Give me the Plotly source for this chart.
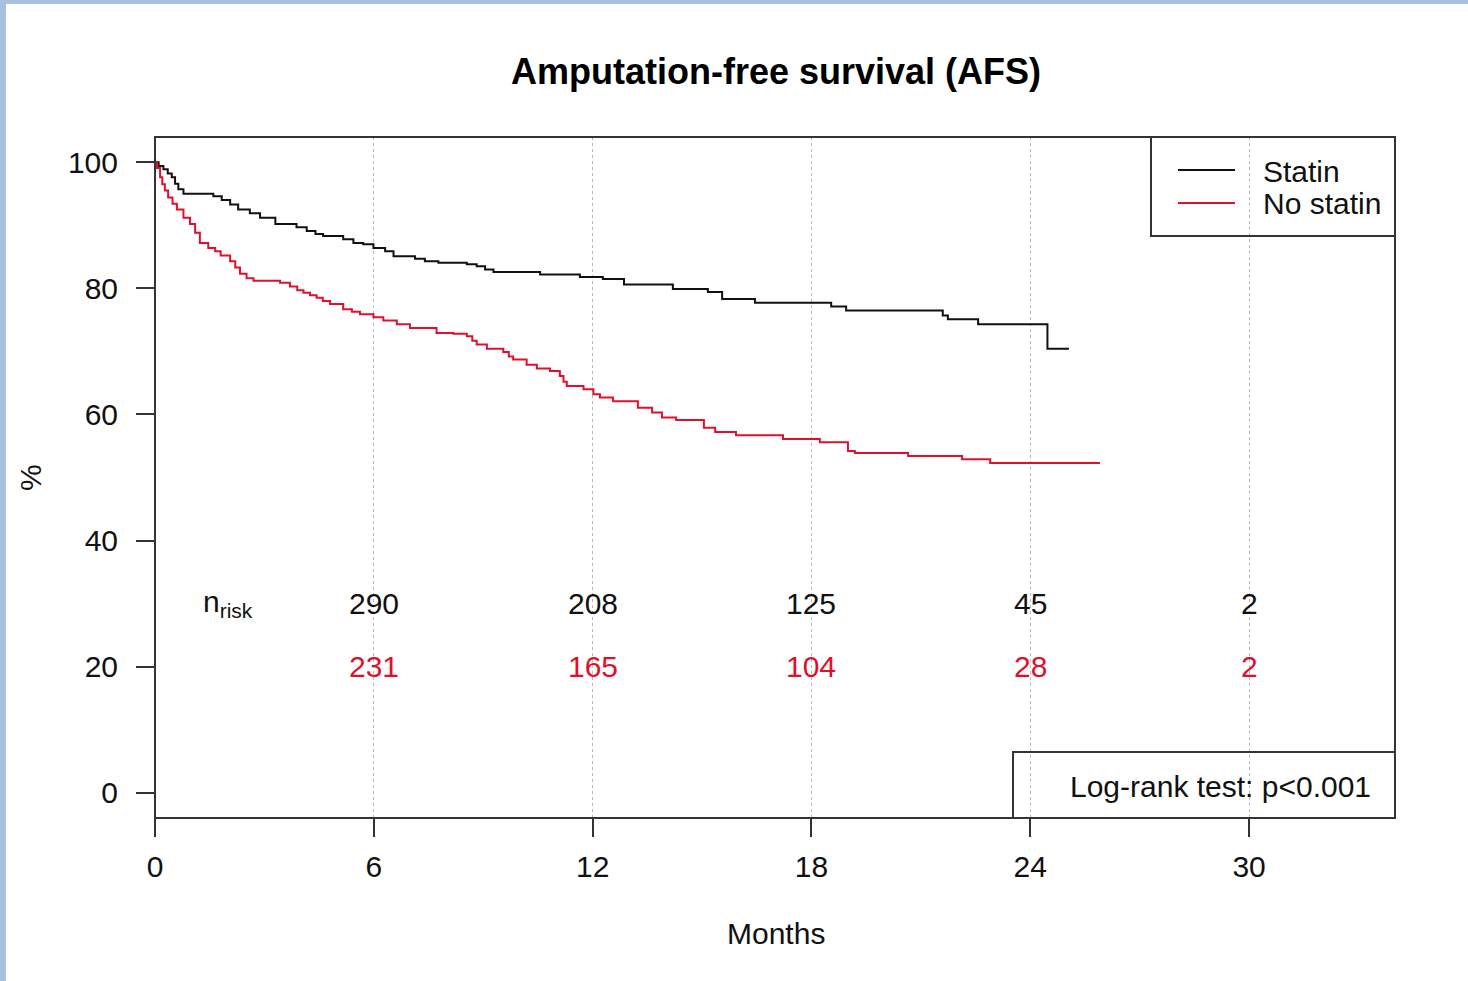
import plotly.graph_objects as go

# ---------------- data ----------------
statin_t = [0, 0.1, 0.23, 0.35, 0.46, 0.55, 0.64, 0.78, 1.6, 1.83, 2.06, 2.28, 2.6, 2.88, 3.3,
            3.88, 4.16, 4.4, 4.61, 5.16, 5.44, 5.71, 5.99, 6.31, 6.54, 7.13, 7.4, 7.77, 8.55,
            8.82, 9.05, 9.28, 10.56, 11.65, 12.28, 12.86, 14.2, 15.16, 15.55, 16.45, 18.54,
            18.95, 21.6, 21.74, 22.57, 24.47, 25.06]
statin_s = [100, 99.4, 98.9, 98.2, 97.6, 96.6, 95.7, 95.0, 94.6, 94.0, 93.3, 92.5, 91.9, 91.2, 90.2,
            89.7, 89.1, 88.6, 88.3, 87.8, 87.2, 87.0, 86.4, 85.9, 85.1, 84.7, 84.3, 84.05, 83.8,
            83.5, 83.0, 82.6, 82.2, 81.8, 81.5, 80.6, 79.9, 79.4, 78.3, 77.7, 77.1,
            76.5, 75.7, 75.1, 74.3, 70.4, 70.4]

nostatin_t = [0, 0.05, 0.14, 0.2, 0.27, 0.36, 0.48, 0.6, 0.78, 0.96, 1.1, 1.23, 1.46, 1.65, 1.8,
              2.06, 2.2, 2.33, 2.51, 2.7, 3.43, 3.7, 3.9, 4.07, 4.25, 4.43, 4.6, 4.8, 5.16, 5.4,
              5.62, 5.99, 6.26, 6.63, 6.99, 7.72, 8.18, 8.55, 8.7, 8.82, 9.1, 9.55, 9.7, 9.82,
              10.19, 10.47, 10.83, 11.1, 11.2, 11.29, 11.75, 12.02, 12.2, 12.56, 13.24, 13.63,
              13.9, 14.29, 15.05, 15.36, 15.93, 17.22, 18.23, 19.0, 19.19, 20.65, 22.13, 22.9, 25.91]
nostatin_s = [100, 99.1, 97.6, 96.5, 95.5, 94.4, 93.4, 92.5, 91.2, 90.2, 88.8, 87.2, 86.4, 85.9, 85.2,
              84.3, 83.3, 82.3, 81.6, 81.2, 80.9, 80.3, 79.7, 79.3, 78.9, 78.5, 78.0, 77.5, 76.7, 76.3,
              75.9, 75.4, 74.9, 74.3, 73.7, 72.9, 72.8, 72.4, 71.7, 71.1, 70.4, 69.9, 69.2, 68.7,
              67.9, 67.3, 66.9, 66.1, 65.2, 64.5, 64.0, 63.2, 62.7, 62.1, 61.05, 60.3,
              59.5, 59.1, 57.9, 57.2, 56.7, 56.1, 55.6, 54.2, 53.9, 53.4, 52.9, 52.3, 52.3]

risk_months = [6, 12, 18, 24, 30]
risk_statin = [290, 208, 125, 45, 2]
risk_nostatin = [231, 165, 104, 28, 2]

x_ticks = [0, 6, 12, 18, 24, 30]
y_ticks = [0, 20, 40, 60, 80, 100]

series_names = ["Statin", "No statin"]
BLACK = "#111111"
RED = "#E0102C"
FONT = "Liberation Sans, Arial, sans-serif"
FS = 30

# ---------------- geometry helpers (pixels -> paper) ----------------
W, H = 1468, 981
L, R, T, B = 155, 1395, 137, 818


def px(xp):
    return (xp - L) / (R - L)


def py(yp):
    return (B - yp) / (B - T)


fig = go.Figure()
fig.add_trace(go.Scatter(x=statin_t, y=statin_s, mode="lines", line_shape="hv",
                         line=dict(color=BLACK, width=2), name=series_names[0], showlegend=False))
fig.add_trace(go.Scatter(x=nostatin_t, y=nostatin_s, mode="lines", line_shape="hv",
                         line=dict(color=RED, width=2), name=series_names[1], showlegend=False))

annotations = []
# title / axis titles
annotations.append(dict(text="<b>Amputation-free survival (AFS)</b>", x=px(776), y=py(72),
                        xref="paper", yref="paper", showarrow=False, xanchor="center", yanchor="middle",
                        font=dict(size=36, color="#000", family=FONT)))
annotations.append(dict(text="Months", x=px(776), y=py(933), xref="paper", yref="paper",
                        showarrow=False, xanchor="center", yanchor="middle",
                        font=dict(size=FS, color="#111", family=FONT)))
annotations.append(dict(text="%", x=px(30), y=py(478), xref="paper", yref="paper", textangle=-90,
                        showarrow=False, xanchor="center", yanchor="middle",
                        font=dict(size=FS, color="#111", family=FONT)))
# number at risk
annotations.append(dict(text="n<sub>risk</sub>", x=2, y=30, xref="x", yref="y", showarrow=False,
                        xanchor="center", yanchor="middle", font=dict(size=FS, color="#111", family=FONT)))
for m, a, b in zip(risk_months, risk_statin, risk_nostatin):
    annotations.append(dict(text=str(a), x=m, y=30, xref="x", yref="y", showarrow=False,
                            xanchor="center", yanchor="middle", font=dict(size=FS, color="#111", family=FONT)))
    annotations.append(dict(text=str(b), x=m, y=20, xref="x", yref="y", showarrow=False,
                            xanchor="center", yanchor="middle", font=dict(size=FS, color=RED, family=FONT)))
# legend texts
for name, yp in zip(series_names, [171, 203]):
    annotations.append(dict(text=name, x=px(1261), y=py(yp), xref="paper", yref="paper", showarrow=False,
                            xanchor="left", yanchor="middle", font=dict(size=FS, color="#111", family=FONT)))
# log-rank text
annotations.append(dict(text="Log-rank test: p<0.001", x=px(1220), y=py(786), xref="paper", yref="paper",
                        showarrow=False, xanchor="center", yanchor="middle",
                        font=dict(size=FS, color="#111", family=FONT)))

BOX = dict(color="#333333", width=2)
shapes = [
    # blue slide border
    dict(type="rect", xref="paper", yref="paper", x0=px(0), x1=px(6), y0=py(981), y1=py(0),
         line=dict(width=0), fillcolor="#a9c0de", layer="below"),
    dict(type="rect", xref="paper", yref="paper", x0=px(0), x1=px(1468), y0=py(4), y1=py(0),
         line=dict(width=0), fillcolor="#a9c0de", layer="below"),
    # plot box
    dict(type="rect", xref="paper", yref="paper", x0=0, x1=1, y0=0, y1=1, line=BOX),
    # legend box
    dict(type="rect", xref="paper", yref="paper", x0=px(1151), x1=1, y0=py(236), y1=1, line=BOX),
    dict(type="line", xref="paper", yref="paper", x0=px(1178), x1=px(1235), y0=py(170), y1=py(170),
         line=dict(color=BLACK, width=2)),
    dict(type="line", xref="paper", yref="paper", x0=px(1178), x1=px(1235), y0=py(203), y1=py(203),
         line=dict(color=RED, width=2)),
    # log-rank box
    dict(type="rect", xref="paper", yref="paper", x0=px(1013), x1=1, y0=0, y1=py(752), line=BOX),
]

fig.update_layout(
    width=W, height=H, autosize=False,
    margin=dict(l=L, r=W - R, t=T, b=H - B, pad=0),
    paper_bgcolor="white", plot_bgcolor="white",
    font=dict(family=FONT, size=FS, color="#111"),
    annotations=annotations, shapes=shapes, showlegend=False,
    xaxis=dict(range=[0, 34], tickvals=x_ticks, ticktext=[str(v) for v in x_ticks],
               ticks="outside", ticklen=18, tickwidth=2, tickcolor="#333",
               showline=False, zeroline=False, showgrid=True, griddash="dot",
               gridcolor="#b8b8b8", gridwidth=1, tickfont=dict(size=FS, color="#111", family=FONT),
               ticklabelstandoff=4, fixedrange=True),
    yaxis=dict(range=[-4, 104], tickvals=y_ticks, ticktext=[str(v) for v in y_ticks],
               ticks="outside", ticklen=18, tickwidth=2, tickcolor="#333",
               showline=False, zeroline=False, showgrid=False,
               tickfont=dict(size=FS, color="#111", family=FONT), ticklabelstandoff=12, fixedrange=True),
)

fig.write_html("out.html")
